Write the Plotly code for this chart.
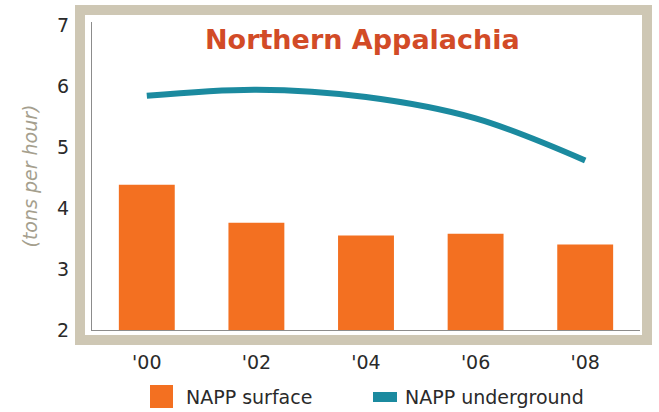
import plotly.graph_objects as go

# Productivity, Northern Appalachia (tons per hour)
years = ["'00", "'02", "'04", "'06", "'08"]
surface = [4.38, 3.76, 3.55, 3.58, 3.40]
underground = [5.84, 5.94, 5.82, 5.47, 4.78]
y_ticks = [2, 3, 4, 5, 6, 7]

W, H = 659, 412
ML, MR, MT, MB = 92, 19, 22, 82
PW, PH = W - ML - MR, H - MT - MB

ORANGE = "#F37021"
TEAL = "#1B8A9F"
FRAME = "#CEC7B4"
TEXT = "#2A2A2A"
FONT = "DejaVu Sans, Liberation Sans, Arial, sans-serif"


def px(x):
    return (x - ML) / PW


def py(y):
    return (H - MB - y) / PH


fig = go.Figure()
fig.add_trace(go.Bar(x=years, y=surface, name="NAPP surface",
                     marker=dict(color=ORANGE, line=dict(width=0)),
                     showlegend=False))
fig.add_trace(go.Scatter(x=years, y=underground, name="NAPP underground",
                         mode="lines", line=dict(color=TEAL, width=6, shape="spline"),
                         showlegend=False))

shapes = [
    # beige frame around the plot
    dict(type="rect", xref="paper", yref="paper", layer="below",
         x0=px(80), x1=px(647), y0=py(340), y1=py(10),
         line=dict(color=FRAME, width=10), fillcolor="white"),
    # legend swatches
    dict(type="rect", xref="paper", yref="paper",
         x0=px(150), x1=px(173), y0=py(408), y1=py(385),
         line=dict(width=0), fillcolor=ORANGE),
    dict(type="rect", xref="paper", yref="paper",
         x0=px(373), x1=px(397), y0=py(402), y1=py(392),
         line=dict(width=0), fillcolor=TEAL),
]

annotations = [
    dict(text="<b>Northern Appalachia</b>", xref="paper", yref="paper",
         x=px(362), y=py(40), showarrow=False, xanchor="center", yanchor="middle",
         font=dict(family=FONT, size=27, color="#D24B27")),
    dict(text="NAPP surface", xref="paper", yref="paper",
         x=px(184), y=py(397), showarrow=False, xanchor="left", yanchor="middle",
         font=dict(family=FONT, size=19, color=TEXT)),
    dict(text="NAPP underground", xref="paper", yref="paper",
         x=px(403), y=py(397), showarrow=False, xanchor="left", yanchor="middle",
         font=dict(family=FONT, size=19, color=TEXT)),
]

fig.update_layout(
    width=W, height=H,
    margin=dict(l=ML, r=MR, t=MT, b=MB, pad=0),
    paper_bgcolor="white", plot_bgcolor="rgba(0,0,0,0)",
    bargap=0.49,
    shapes=shapes, annotations=annotations,
    font=dict(family=FONT, color=TEXT),
)
fig.update_xaxes(range=[-0.5, 4.5], showgrid=False, zeroline=False,
                 showline=True, linecolor="#8C8C8C", linewidth=1,
                 ticks="", ticklabelstandoff=15,
                 tickfont=dict(family=FONT, size=19, color=TEXT))
fig.update_yaxes(range=[2, 7.05], tickvals=y_ticks, showgrid=False, zeroline=False,
                 showline=True, linecolor="#8C8C8C", linewidth=1,
                 ticks="", ticklabelstandoff=18,
                 tickfont=dict(family=FONT, size=19, color=TEXT),
                 title=dict(text="<i>(tons per hour)</i>", standoff=14,
                            font=dict(family=FONT, size=19, color="#A59F8E")))

fig.write_html("out.html")
